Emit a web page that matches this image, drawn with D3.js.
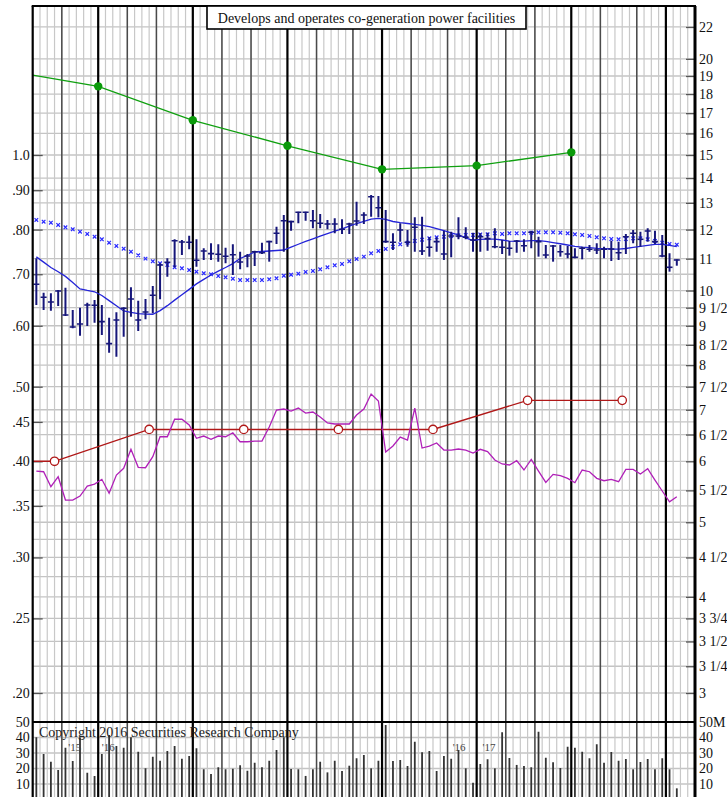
<!DOCTYPE html>
<html><head><meta charset="utf-8">
<script src="https://cdn.jsdelivr.net/npm/d3@7"></script>
<style>body{margin:0;background:#fff}svg{display:block}text{font-family:"Liberation Serif","Times New Roman",serif}</style>
</head><body><svg id="c" width="727" height="797"></svg>
<script>
// ---- data (weekly bars, index 0..88) ----
const high = [
.7342,.6625,.6613,.6678,.6724,.6290,.6334,.6429,.6481,.6385,
.6147,.6247,.6341,.6732,.6468,.6501,.6758,.7233,.7342,.7771,
.7755,.7856,.7771,.7565,.7679,.7656,.7578,.7656,.7488,.7437,
.7510,.7692,.7739,.8070,.8357,.8216,.8440,.8440,.8483,.8382,
.8233,.8275,.8250,.8167,.8697,.8425,.8872,.8846,.8483,.7912,
.8152,.7990,.8300,.8315,.7818,.7818,.7974,.7950,.8300,.8055,
.7926,.7912,.7926,.8031,.7755,.7732,.7755,.7771,.7974,.7832,
.7640,.7640,.7640,.7617,.7565,.7601,.7640,.7679,.7601,.7739,
.7716,.7896,.7990,.7950,.8031,.7974,.7872,.7452,.7320];
const low = [
.6385,.6290,.6277,.6366,.6179,.5955,.5825,.5996,.6056,.5837,
.5536,.5470,.5808,.6166,.5907,.6118,.6229,.6495,.6949,.7147,
.7415,.7542,.7160,.7305,.7305,.7268,.7233,.6984,.7104,.7147,
.7175,.7437,.7268,.7663,.7488,.7974,.8152,.8216,.8031,.8031,
.8007,.7912,.7896,.7896,.8094,.8135,.8315,.8300,.7692,.7526,
.7716,.7601,.7488,.7415,.7378,.7488,.7305,.7364,.7771,.7771,
.7488,.7488,.7510,.7565,.7437,.7400,.7466,.7488,.7565,.7378,
.7342,.7268,.7378,.7342,.7342,.7320,.7488,.7437,.7342,.7283,
.7305,.7437,.7679,.7601,.7716,.7663,.7364,.7054,.7181];
const close = [
.6792,.6534,.6443,.6658,.6197,.5978,.6032,.6385,.6379,.6074,
.5687,.6105,.6322,.6501,.6105,.6253,.6573,.7196,.7255,.7739,
.7709,.7702,.7298,.7504,.7444,.7430,.7386,.7421,.7261,.7393,
.7488,.7466,.7716,.7912,.8216,.8192,.8425,.8425,.8216,.8152,
.8135,.8135,.8007,.8135,.8208,.8357,.8827,.8542,.7716,.7702,
.7990,.7702,.8055,.7504,.7588,.7716,.7437,.7849,.7849,.7818,
.7755,.7832,.7786,.7601,.7588,.7565,.7732,.7624,.7935,.7716,
.7415,.7617,.7488,.7437,.7364,.7565,.7542,.7526,.7542,.7549,
.7466,.7832,.7912,.7771,.7966,.7716,.7393,.7147,.7305];
const ma10 = [
.7373,.7258,.7143,.7053,.6955,.6828,.6700,.6668,.6642,.6568,
.6468,.6370,.6272,.6247,.6223,.6214,.6210,.6279,.6372,.6478,
.6583,.6690,.6801,.6893,.6984,.7066,.7143,.7225,.7338,.7404,
.7481,.7492,.7504,.7515,.7526,.7592,.7657,.7722,.7783,.7847,
.7903,.7962,.8018,.8084,.8147,.8201,.8256,.8275,.8246,.8196,
.8167,.8147,.8125,.8104,.8073,.8024,.7974,.7919,.7872,.7802,
.7743,.7767,.7776,.7774,.7755,.7730,.7721,.7730,.7739,.7739,
.7721,.7693,.7668,.7640,.7610,.7592,.7578,.7565,.7558,.7549,
.7544,.7560,.7587,.7610,.7631,.7652,.7656,.7633,.7603];
const ma40 = [
.8233,.8192,.8167,.8111,.8055,.8007,.7950,.7896,.7832,.7771,
.7692,.7617,.7556,.7488,.7408,.7334,.7277,.7233,.7196,.7147,
.7126,.7089,.7053,.7020,.6999,.6963,.6936,.6907,.6880,.6880,
.6880,.6880,.6895,.6915,.6969,.6990,.7011,.7047,.7068,.7104,
.7147,.7190,.7218,.7277,.7327,.7378,.7452,.7504,.7549,.7601,
.7656,.7692,.7732,.7762,.7795,.7818,.7832,.7849,.7865,.7872,
.7872,.7884,.7888,.7912,.7896,.7912,.7912,.7912,.7926,.7935,
.7935,.7935,.7926,.7912,.7888,.7872,.7849,.7818,.7795,.7778,
.7771,.7778,.7795,.7795,.7771,.7732,.7692,.7663,.7647];
const relStrength = [
.3885,.3877,.3707,.3820,.3562,.3562,.3605,.3715,.3737,.3790,
.3635,.3839,.3917,.4146,.3929,.3924,.4055,.4305,.4305,.4536,
.4536,.4459,.4285,.4314,.4272,.4314,.4305,.4357,.4241,.4241,
.4250,.4250,.4432,.4663,.4677,.4649,.4691,.4621,.4635,.4567,
.4486,.4472,.4472,.4472,.4594,.4677,.4892,.4791,.4112,.4187,
.4301,.4263,.4691,.4162,.4187,.4225,.4137,.4137,.4150,.4137,
.4100,.4146,.4117,.4015,.3968,.3956,.4007,.3897,.4023,.3885,
.3756,.3847,.3831,.3801,.3752,.3897,.3877,.3801,.3774,.3790,
.3763,.3905,.3905,.3851,.3912,.3782,.3660,.3544,.3598];
const volume = [
40.1,29.4,24.4,19,33.4,24.8,40,17.3,15.2,29.4,
41.6,34.5,33.4,40.1,30.8,20.1,27.6,25,31.3,34.5,
26.3,28.1,33,19.5,16.5,20.8,19.5,19.9,22.1,18.6,
23.7,20.8,25,31.9,40.1,19.7,19.5,15.2,19.5,24.4,
17.5,25,18.4,21.8,26.6,28.7,20.1,25,48.1,24.8,
25.5,21.6,37.3,30.5,31.3,18.4,28.1,26.3,31.9,20.1,
10.8,22.9,25.9,20.1,43.4,26.8,22.3,21.6,20.8,43.7,
27,24,20.3,34.1,33.4,30.8,26.6,35.6,23.7,30.6,
25,26.1,19.5,24.2,26.1,19.5,26.6,19.5,7.2];
// earnings (right scale) at quarter points
const epsWeek = [-0.5, 8.5, 21.5, 34.5, 47.5, 60.5, 73.5];
const epsVal  = [19.05, 18.42, 16.64, 15.42, 14.37, 14.53, 15.12];
const epsDot  = [false, true, true, true, true, true, true];
// dividends (left scale)
const divWeek = [-0.5, 2.5, 15.5, 28.5, 41.5, 54.5, 67.5, 80.5];
const divVal  = [0.40, 0.40, 0.44, 0.44, 0.44, 0.44, 0.48, 0.48];
const divDot  = [false, true, true, true, true, true, true, true];
// axis ticks
const leftTicks  = [1.0, .90, .80, .70, .60, .50, .45, .40, .35, .30, .25, .20];
const leftLabels = ["1.0", ".90", ".80", ".70", ".60", ".50", ".45", ".40", ".35", ".30", ".25", ".20"];
const rightTicks  = [22,20,19,18,17,16,15,14,13,12,11,10,9.5,9,8.5,8,7.5,7,6.5,6,5.5,5,4.5,4,3.75,3.5,3.25,3];
const rightLabels = ["22","20","19","18","17","16","15","14","13","12","11","10","9 1/2","9","8 1/2","8","7 1/2","7","6 1/2","6","5 1/2","5","4 1/2","4","3 3/4","3 1/2","3 1/4","3"];
const gridExtra = [13.5, 10.5, 6.75, 5.25, 4.75, 4.25];
const volTicks = [50, 40, 30, 20, 10];
const monthLines = [3.5, 12.5, 16.5, 25.5, 29.5, 38.5, 43.5, 51.5, 56.5, 64.5, 68.5, 77.5, 82.5];
const quarterLines = [8.5, 21.5, 34.5, 47.5, 60.5, 73.5, 86.5];
const yearLabels = [{w:4.4, t:"'15"}, {w:9.0, t:"'16"}, {w:57.2, t:"'16"}, {w:61.3, t:"'17"}];
const title = "Develops and operates co-generation power facilities";
const copyright = "Copyright 2016 Securities Research Company";

// ---- layout ----
const svg = d3.select("#c");
const L = 32.7, R = 695, T = 6, PB = 722, B = 797;
const x  = d3.scaleLinear().domain([-0.5, 90.5]).range([L, R]);
const yL = d3.scaleLog().domain([0.2, 1.0]).range([693, 155]);
const yR = d3.scaleLog().domain([3, 15]).range([693, 155]);
const yV = d3.scaleLinear().domain([0, 50]).range([799.5, 722]);
const FONT = '"Liberation Serif","Times New Roman",serif';

const defs = svg.append("defs");
defs.append("clipPath").attr("id","cp").append("rect").attr("x",L).attr("y",T).attr("width",R-L).attr("height",PB-T);
defs.append("clipPath").attr("id","cv").append("rect").attr("x",L).attr("y",PB).attr("width",R-L).attr("height",B-PB);

const grid = svg.append("g");
const hVals = rightTicks.concat(gridExtra);
grid.selectAll(".hg").data(hVals).join("line")
  .attr("x1",L).attr("x2",R).attr("y1",d=>yR(d)).attr("y2",d=>yR(d))
  .attr("stroke","#c4c4c4").attr("stroke-width",1.3);
grid.selectAll(".vg").data([40,30,20,10]).join("line")
  .attr("x1",L).attr("x2",R).attr("y1",d=>yV(d)).attr("y2",d=>yV(d))
  .attr("stroke","#c4c4c4").attr("stroke-width",1.3);
const weekB = d3.range(0.5, 90, 1);
grid.selectAll(".wg").data(weekB).join("line")
  .attr("x1",d=>x(d)).attr("x2",d=>x(d)).attr("y1",T).attr("y2",B)
  .attr("stroke","#c8c8c8").attr("stroke-width",1.2);
grid.selectAll(".mg").data(monthLines).join("line")
  .attr("x1",d=>x(d)).attr("x2",d=>x(d)).attr("y1",T).attr("y2",B)
  .attr("stroke","#4a4a4a").attr("stroke-width",1.5);
grid.selectAll(".qg").data(quarterLines).join("line")
  .attr("x1",d=>x(d)).attr("x2",d=>x(d)).attr("y1",T).attr("y2",B)
  .attr("stroke","#000").attr("stroke-width",2.2);

function styleAxis(g){
  g.select(".domain").remove();
  g.selectAll(".tick line").attr("stroke","#555").attr("stroke-width",1.3);
  g.selectAll(".tick text").attr("font-family",FONT).attr("font-size",14).attr("fill","#111");
}
svg.append("g").attr("transform",`translate(${L},0)`)
  .call(d3.axisLeft(yL).tickValues(leftTicks).tickFormat((d,i)=>leftLabels[i]).tickSizeInner(-10).tickSizeOuter(0).tickPadding(3))
  .call(styleAxis);
svg.append("g").attr("transform",`translate(${R},0)`)
  .call(d3.axisRight(yR).tickValues(rightTicks).tickFormat((d,i)=>rightLabels[i]).tickSizeInner(-9).tickSizeOuter(0).tickPadding(4))
  .call(styleAxis);
svg.append("g").attr("transform",`translate(${L},0)`)
  .call(d3.axisLeft(yV).tickValues(volTicks).tickFormat(d3.format("d")).tickSizeInner(0).tickSizeOuter(0).tickPadding(3))
  .call(styleAxis);
svg.append("g").attr("transform",`translate(${R},0)`)
  .call(d3.axisRight(yV).tickValues(volTicks).tickFormat(d=>d===50?"50M":String(d)).tickSizeInner(0).tickSizeOuter(0).tickPadding(4))
  .call(styleAxis);

const vg = svg.append("g").attr("clip-path","url(#cv)");
vg.selectAll("line").data(volume).join("line")
  .attr("x1",(d,i)=>x(i)).attr("x2",(d,i)=>x(i)).attr("y1",d=>yV(d)).attr("y2",B)
  .attr("stroke","#333").attr("stroke-width",1.8);

const pg = svg.append("g").attr("clip-path","url(#cp)");
pg.append("path").datum(divVal).attr("fill","none").attr("stroke","#b01818").attr("stroke-width",1.4)
  .attr("d", d3.line().x((d,i)=>x(divWeek[i])).y(d=>yL(d)));
pg.append("path").datum(relStrength).attr("fill","none").attr("stroke","#b020b8").attr("stroke-width",1.3)
  .attr("d", d3.line().x((d,i)=>x(i)).y(d=>yL(d)));
pg.append("path").datum(epsVal).attr("fill","none").attr("stroke","#10a010").attr("stroke-width",1.3)
  .attr("d", d3.line().x((d,i)=>x(epsWeek[i])).y(d=>yR(d)));
pg.selectAll(".ed").data(epsVal.map((v,i)=>({v,w:epsWeek[i],s:epsDot[i]})).filter(d=>d.s)).join("circle")
  .attr("cx",d=>x(d.w)).attr("cy",d=>yR(d.v)).attr("r",4.2).attr("fill","#0a9a0a");
pg.selectAll(".dd").data(divVal.map((v,i)=>({v,w:divWeek[i],s:divDot[i]})).filter(d=>d.s)).join("circle")
  .attr("cx",d=>x(d.w)).attr("cy",d=>yL(d.v)).attr("r",4.2).attr("fill","#fff").attr("stroke","#b01818").attr("stroke-width",1.3);
pg.selectAll(".mx").data(ma40).join("path")
  .attr("d",(d,i)=>{const cx=x(i), cy=yL(d), s=1.8; return `M${cx-s},${cy-s}L${cx+s},${cy+s}M${cx-s},${cy+s}L${cx+s},${cy-s}`;})
  .attr("stroke","#2a2aff").attr("stroke-width",1.2).attr("fill","none");
pg.append("path").datum(ma10).attr("fill","none").attr("stroke","#2424d8").attr("stroke-width",1.3)
  .attr("d", d3.line().x((d,i)=>x(i)).y(d=>yL(d)));
pg.selectAll(".bar").data(high).join("line")
  .attr("x1",(d,i)=>x(i)).attr("x2",(d,i)=>x(i)).attr("y1",d=>yL(d)).attr("y2",(d,i)=>yL(low[i]))
  .attr("stroke","#16167a").attr("stroke-width",2);
pg.selectAll(".cl").data(close).join("line")
  .attr("x1",(d,i)=>x(i)-3).attr("x2",(d,i)=>x(i)+3).attr("y1",d=>yL(d)).attr("y2",d=>yL(d))
  .attr("stroke","#16167a").attr("stroke-width",1.6);

svg.append("line").attr("x1",L-1).attr("x2",R+1).attr("y1",T).attr("y2",T).attr("stroke","#000").attr("stroke-width",2.2);
svg.append("line").attr("x1",L).attr("x2",L).attr("y1",T).attr("y2",B).attr("stroke","#000").attr("stroke-width",2.2);
svg.append("line").attr("x1",R).attr("x2",R).attr("y1",T).attr("y2",B).attr("stroke","#000").attr("stroke-width",3);
svg.append("line").attr("x1",L).attr("x2",R).attr("y1",PB).attr("y2",PB).attr("stroke","#000").attr("stroke-width",2.2);

svg.append("rect").attr("x",207).attr("y",T).attr("width",319).attr("height",23)
  .attr("fill","#fff").attr("stroke","#000").attr("stroke-width",1.6);
svg.append("text").attr("x",366.5).attr("y",22.5).attr("text-anchor","middle")
  .attr("font-size",14).attr("fill","#111").text(title);

svg.append("text").attr("x",39).attr("y",737).attr("font-size",14).attr("fill","#222").text(copyright);
svg.selectAll(".yl").data(yearLabels).join("text")
  .attr("x",d=>x(d.w)).attr("y",751).attr("font-size",11).attr("fill","#444").text(d=>d.t);
</script></body></html>
